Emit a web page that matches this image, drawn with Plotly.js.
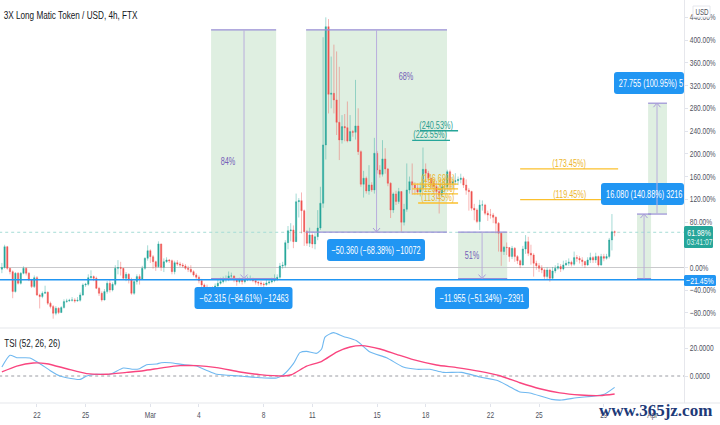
<!DOCTYPE html>
<html>
<head>
<meta charset="utf-8">
<script src="https://cdn.plot.ly/plotly-3.0.1.min.js"></script>
<style>html,body{margin:0;padding:0;background:#fff}#c{width:720px;height:425px}</style>
</head>
<body>
<div id="c"></div>
<script>
// ---- candle values, in % of the chart's reference price (open = previous close)
const closes = [
0,36.6,-1.4,-7.3,-42.4,-10.2,-27.8,-10.2,-1.4,-10.2,
-21.9,-33.6,-17.8,-48.3,-51.2,-45.4,-43.6,-62.9,-68.8,-80.5,
-71.7,-79.3,-70.5,-60,-58.8,-57.7,-57,-58.8,-57.7,-48.3,
-30.7,-29.5,-17.8,-16,-19,-36.6,-45.4,-57,-42.4,-27.8,
-39.5,-29.5,-1.4,-0.2,-1.4,-19,-12,-21.9,-45.4,-24.8,
-16,-20,-1.4,16.2,29.6,19.1,10.3,1.5,41.4,0.3,
10.3,13.2,12,-7.3,8.5,6.2,4.4,2.7,-1.4,-3.2,
-7.3,-13.1,-17.2,-23.1,-30.7,-34.8,-37.2,-37.2,-37.2,-32.5,
-27.8,-24.9,-21.9,-20.7,-14.9,-14.9,-21.9,-24.9,-21.9,-24.9,
-21.9,-20.7,-19.6,-23.1,-26,-27.2,-29,-30.1,-27.2,-25.4,
-23.1,-20.7,-17.2,2.7,3.9,43.7,64.8,66,45.5,115.8,
117.6,100,63,42.5,57.2,41.4,54.3,69.5,113,215.6,
423.6,304.6,306.4,294.7,255.4,224.4,247.8,246,222.6,239,
237.8,249,203.8,146.4,157,134.7,145.2,136.5,200.9,171.6,
164,191,173.4,148.2,101.3,129.4,116,133.5,79.6,102.4,
136.4,151,145,140,133,140,172.7,165.7,157,148.1,
142.3,133.5,127.6,142,142,168.6,148,151,152.8,155,
157,145,136,133.5,104.2,101.2,80.7,110,110,95.4,
92.4,92.4,88.3,77.8,60.2,28,35.6,35,19.2,33.8,
19.2,12,4.5,32.6,45.5,25,22,7.4,3.3,-1.3,
-4.3,-16,-4.3,-19,-6,-1.3,1.6,-2.5,4.5,7.4,
9.2,5.7,17.4,16.2,13.3,10.4,4.5,13.3,17.4,13.3,
19.2,4.5,19.2,16.2,19.2,48.5,63,62];
const highs = [
8,40,38,-1,-5,-8,-8,-8,2,0,
-8,-20,-14,-15,-46,-42,-32,-42,-60,-66,
-68,-70,-68,-56,-55,-55,-52,-54,-52,-44,
-28,-27,-12,-5,-14,-16,-34,-42,-38,-24,
-22,-26,4,13,10,-1,-8,-10,-18,-20,
-12,-12,3,18,39,32,22,12,46,42,
16,18,15,14,12,13,10,8,6,3,
4,-5,-10,-14,-20,-28,-30,-34,-33,-28,
-22,-18,-16,-14,-7,-9,-14,-20,-18,-20,
-18,-16,-14,-18,-21,-24,-24,-26,-22,-20,
-18,-12,-12,8,10,48,73,78,74,130,
122,132,102,66,70,60,62,101,142,405,
440,437,371,392,380,353,268,270,292,268,
242,330,280,206,170,160,180,150,228,205,
180,224,210,175,150,132,135,140,127,112,
183,160,183,150,148,150,211,183,170,155,
155,150,140,150,155,172,172,160,166,160,
165,160,155,140,135,112,104,119,118,112,
100,103,96,90,80,62,38,44,36,38,
36,22,14,38,57,54,40,25,12,8,
4,-2,0,-2,1,4,8,6,12,13,
16,12,28,22,20,18,12,18,26,20,
26,21,24,24,24,52,94,65];
const lows = [
-10,-2,-4,-12,-54,-44,-30,-30,-12,-14,
-24,-36,-36,-50,-72,-54,-46,-66,-72,-90,
-84,-82,-80,-72,-62,-60,-60,-62,-60,-60,
-50,-34,-32,-22,-24,-38,-50,-60,-58,-46,
-44,-42,-32,-12,-14,-22,-24,-28,-48,-48,
-30,-30,-22,-4,12,8,-2,-6,0,-6,
-8,8,8,-12,-12,3,1,0,-4,-8,
-10,-16,-22,-28,-36,-38,-42,-40,-42,-40,
-36,-30,-28,-26,-24,-20,-26,-32,-28,-30,
-28,-24,-24,-26,-30,-32,-33,-36,-32,-30,
-28,-26,-24,-20,-2,0,32,46,34,54,
88,60,38,38,36,34,32,48,66,105,
190,271,280,271,233,189,218,222,220,222,
230,225,198,142,123,130,128,133,130,165,
158,160,165,143,87,96,110,112,63,74,
98,130,128,128,128,125,135,150,148,138,
130,120,95,125,132,135,135,140,145,145,
148,140,128,100,100,83,78,66,100,92,
82,86,78,60,28,3,22,22,10,15,
10,6,-1,3,24,20,5,-16,-4,-8,
-10,-22,-20,-25,-22,-10,-4,-8,-5,3,
3,2,3,10,7,2,-1,3,8,8,
8,1.6,3,11,14,16,30,55];

// ---- TSI pane, read at candle positions
const tsiIdx = [0,3,5.5,10.4,14.1,17.8,21.5,24,29,31.4,35,40,45,48.7,51,53.6,57.3,59,62.3,67.2,72,75.9,79.6,88.2,95.6,101.8,104.3,108,110.4,112.9,116.6,118.5,119.7,122.8,126.5,131.4,136.4,142.5,148.7,153.7,158.6,163.5,170.3,177.1,183.3,187.6,191.9,195.6,203.7,207.4,212.9,222.8,227];
const tsiVal = [6.4,14.8,13.1,12.9,8.8,4,0,-1.2,-2.4,0,1.2,1.2,5.7,4.8,5.2,8.1,8.6,9.5,9.5,8.1,7.1,4,1.2,0,-1.2,-1.4,0.9,8.8,16.7,17.6,16.2,19.5,27.8,31,28.3,25.2,17.1,13.1,6.4,4.8,4.8,2.6,2.6,-0.7,-3.1,-7.1,-11.4,-12.1,-16.7,-17.2,-15.5,-13.3,-8.1];
const sigIdx = [0,5.5,11.6,16.6,24,31.4,38.8,46.2,52.4,59.8,66,72.2,79.6,88.2,95.6,104.3,107.3,112.9,118.5,124,129,133.3,140.1,146.2,152.4,161,168.5,177.1,184.5,191.9,199.3,206.7,214.2,221.6,227];
const sigVal = [2.9,7.1,9.3,8.8,5.2,1.7,1.2,2.6,3.8,6,7.4,7.4,6,2.9,1,0,0.9,7.1,10.5,17.1,20.7,21.7,19.3,15.5,11.7,7.9,6,3.3,0.2,-4.8,-9.1,-12.1,-13.6,-14,-12.9];

// ---- axis ticks
const priceTicks = [-80,-40,0,40,80,120,160,200,240,280,320,360,400,440];
const priceTickText = ['\u221280.00%','\u221240.00%','0.00%','40.00%','80.00%','120.00%','160.00%','200.00%','240.00%','280.00%','320.00%','360.00%','400.00%','440.00%'];
const tsiTicks = [0,20];
const tsiTickText = ['0.0000','20.0000'];
const dateTicks = [13,31,55,73,97,115,139,157,181,199,223,241];
const dateTickText = ['22','25','Mar','4','8','11','15','18','22','25','29','Apr'];

// ---- drawing-tool levels
const lastPrice = 61.98, bluePrice = -21.45;
const measureX0 = [77.5,112.7,169,235.3,239.4];
const measureX1 = [101.6,164.9,187.2,240.5,246.4];
const measureMid = [89.7,138.8,177.9,237.9,242.7];
const measureTop = [418,418,62.4,94,289];
const measureBot = [-19.5,62.4,-19.5,-19.5,94];
const fibYellow = [173.45,119.45,146.69,138.45,129.45,113.45];
const fibYellowX0 = [192,192,152,152,152,154.2];
const fibYellowX1 = [228.3,222,169,169,169,169];
const fibTeal = [240.53,223.55];
const fibTealX0 = [154.9,152];
const fibTealX1 = [169,166];

const FONT = '"Liberation Sans",Arial,sans-serif';
const W=720,H=425;
const px=x=>x/W, py=y=>1-y/H;
const idx = closes.map((_,i)=>i);
const opens = closes.map((c,i)=>i?closes[i-1]:-3);

const UP='#26a69a', DN='#ef5350', BLUE='#2196f3', PUR='#7560b8';
const shapes=[], ann=[];

measureX0.forEach((x0,i)=>{
  shapes.push({type:'rect',layer:'below',xref:'x',yref:'y',x0:x0,x1:measureX1[i],y0:measureBot[i],y1:measureTop[i],fillcolor:'#dfefe1',line:{width:0}});
});
shapes.push({type:'line',layer:'below',xref:'x',yref:'y',x0:-1,x1:252.7,y0:0,y1:0,line:{color:'#c9c9cc',width:1}});
shapes.push({type:'line',layer:'below',xref:'x',yref:'y',x0:-1,x1:252.7,y0:lastPrice,y1:lastPrice,line:{color:'#a6dcd6',width:1,dash:'dot'}});
shapes.push({type:'line',layer:'below',xref:'paper',yref:'paper',x0:0,x1:1,y0:py(328),y1:py(328),line:{color:'#e6e7ec',width:1.2}});
shapes.push({type:'line',layer:'below',xref:'paper',yref:'paper',x0:0,x1:1,y0:py(403),y1:py(403),line:{color:'#e6e7ec',width:1.2}});
shapes.push({type:'line',layer:'below',xref:'x',yref:'y2',x0:-1,x1:252.7,y0:0,y1:0,line:{color:'#9a9ca3',width:1,dash:'dot'}});

function rbox(x0,y0,x1,y1,c,r){
  r=r||3;
  const X=v=>px(v),Y=v=>py(v);
  const path=`M${X(x0+r)},${Y(y0)} L${X(x1-r)},${Y(y0)} Q${X(x1)},${Y(y0)} ${X(x1)},${Y(y0+r)} L${X(x1)},${Y(y1-r)} Q${X(x1)},${Y(y1)} ${X(x1-r)},${Y(y1)} L${X(x0+r)},${Y(y1)} Q${X(x0)},${Y(y1)} ${X(x0)},${Y(y1-r)} L${X(x0)},${Y(y0+r)} Q${X(x0)},${Y(y0)} ${X(x0+r)},${Y(y0)} Z`;
  shapes.push({type:'path',layer:'above',xref:'paper',yref:'paper',path:path,fillcolor:c,line:{width:0}});
}
function txt(x,y,t,size,color){
  ann.push({xref:'paper',yref:'paper',x:px(x),y:py(y),text:t,showarrow:false,xanchor:'center',yanchor:'middle',font:{family:FONT,size:size,color:color},borderpad:0});
}
rbox(194.5,287,292.5,309,BLUE);
rbox(327,239,425,261,BLUE);
rbox(435,287,529,309,BLUE);
rbox(614,72,684,94,BLUE);
rbox(601,183,684,205,BLUE);
txt(244,298,'\u221262.315 (\u221284.61%) \u221212463',10,'#fff');
txt(376,250,'\u221250.360 (\u221268.38%) \u221210072',10,'#fff');
txt(482,298,'\u221211.955 (\u221251.34%) \u22122391',10,'#fff');
txt(651,83,'27.755 (100.95%) 5',10,'#fff');
txt(644,194,'16.080 (140.88%) 3216',10,'#fff');

measureX0.forEach((x0,i)=>{
  [measureTop[i],measureBot[i]].forEach(v=>{
    shapes.push({type:'line',layer:'above',xref:'x',yref:'y',x0:x0,x1:measureX1[i],y0:v,y1:v,line:{color:'#9a8fd6',width:1.2}});
  });
  shapes.push({type:'line',layer:'above',xref:'x',yref:'y',x0:measureMid[i],x1:measureMid[i],y0:measureBot[i],y1:measureTop[i],line:{color:'#b9aedd',width:1}});
  const xm=1.9+2.699*measureMid[i];
  const down=i<3;
  const tip=267.5-0.5685*(down?measureBot[i]:measureTop[i]);
  const s=down?-1:1;
  shapes.push({type:'path',layer:'above',xref:'paper',yref:'paper',path:`M${px(xm-3.5)},${py(tip+s*4)} L${px(xm)},${py(tip)} L${px(xm+3.5)},${py(tip+s*4)}`,line:{color:'#a99bd9',width:1}});
});
txt(228,162,'84%',10,PUR);
txt(406,77,'68%',10,PUR);
txt(471.5,256,'51%',10,PUR);

fibYellow.forEach((v,i)=>{
  shapes.push({type:'line',layer:'above',xref:'x',yref:'y',x0:fibYellowX0[i],x1:fibYellowX1[i],y0:v,y1:v,line:{color:'#fbc02d',width:1.3}});
  const xc=i<2?569:438;
  txt(xc,267.5-0.5685*v-5.5,'('+v.toFixed(2)+'%)',10,'#ecb62e');
});
fibTeal.forEach((v,i)=>{
  shapes.push({type:'line',layer:'above',xref:'x',yref:'y',x0:fibTealX0[i],x1:fibTealX1[i],y0:v,y1:v,line:{color:'#26a69a',width:1.3}});
  txt(i?430:436,267.5-0.5685*v-5.5,'('+v.toFixed(2)+'%)',10,'#2a9d90');
});

shapes.push({type:'line',layer:'above',xref:'x',yref:'y',x0:-1,x1:252.7,y0:bluePrice,y1:bluePrice,line:{color:BLUE,width:1.5}});
rbox(684,226,713,248,UP,1.5);
rbox(684,275,716,286,BLUE,1.5);
txt(699,232.5,lastPrice.toFixed(2)+'%',9.5,'#fff');
txt(699,241.5,'03:41:07',9,'#dff3f0');
txt(700,280.5,'\u221221.45%',9.5,'#fff');
shapes.push({type:'rect',layer:'above',xref:'paper',yref:'paper',x0:px(693),x1:px(710),y0:py(6),y1:py(17),fillcolor:'#fff',line:{color:'#e6e7ec',width:1}});
txt(701.5,11.5,'USD',8.5,'#50535e');

txt(71,14.5,'3X Long Matic Token / USD, 4h, FTX',11.2,'#131722');
txt(32,343,'TSI (52, 26, 26)',11,'#131722');
ann.push({xref:'paper',yref:'paper',x:px(597),y:py(410),text:'<b>www.365jz.com</b>',showarrow:false,xanchor:'left',yanchor:'middle',font:{family:'"Liberation Serif",serif',size:17,color:'#1d3a78'}});

const traces=[
{type:'candlestick',x:idx,open:opens,high:highs,low:lows,close:closes,xaxis:'x',yaxis:'y',width:0.7,whiskerwidth:0,
 increasing:{line:{color:'rgba(38,166,154,0.42)',width:1},fillcolor:UP},
 decreasing:{line:{color:'rgba(239,83,80,0.42)',width:1},fillcolor:DN},showlegend:false,hoverinfo:'skip'},
{type:'scatter',mode:'lines',x:tsiIdx,y:tsiVal,xaxis:'x',yaxis:'y2',line:{color:'#6fb8f0',width:1.1,shape:'spline',smoothing:0.6},showlegend:false,hoverinfo:'skip'},
{type:'scatter',mode:'lines',x:sigIdx,y:sigVal,xaxis:'x',yaxis:'y2',line:{color:'#f9457f',width:1.4,shape:'spline',smoothing:0.6},showlegend:false,hoverinfo:'skip'}
];

const tickFont={family:FONT,size:9,color:'#50535e'};
const layout={
 width:W,height:H,margin:{l:0,r:0,t:0,b:0},paper_bgcolor:'#fff',plot_bgcolor:'#fff',showlegend:false,
 xaxis:{domain:[0,684/720],range:[-0.7,252.7],anchor:'y2',rangeslider:{visible:false},showgrid:false,zeroline:false,
   tickmode:'array',tickvals:dateTicks,ticktext:dateTickText,ticks:'outside',ticklen:3,tickcolor:'#e0e3eb',tickfont:tickFont,showline:false},
 yaxis:{domain:[py(328),1],range:[-106.4,470.5],side:'right',anchor:'x',showgrid:false,zeroline:false,
   tickmode:'array',tickvals:priceTicks,ticktext:priceTickText,ticks:'outside',ticklen:3,tickcolor:'#e0e3eb',tickfont:tickFont,showline:true,linecolor:'#e6e7ec',linewidth:1},
 yaxis2:{domain:[py(403),py(329)],range:[-19.3,33.6],side:'right',anchor:'x',showgrid:false,zeroline:false,
   tickmode:'array',tickvals:tsiTicks,ticktext:tsiTickText,ticks:'outside',ticklen:3,tickcolor:'#e0e3eb',tickfont:tickFont,showline:true,linecolor:'#e6e7ec',linewidth:1},
 shapes:shapes,annotations:ann
};
// The reference's lettering is narrow; squeeze the real text horizontally after drawing.
const SQUEEZE=0.73;
Plotly.newPlot('c',traces,layout,{displayModeBar:false,staticPlot:true}).then(gd=>{
  gd.querySelectorAll('svg text').forEach(t=>{
    if(t.textContent.startsWith('www')) return;
    const w=t.getComputedTextLength();
    if(w>0){t.setAttribute('textLength',(w*SQUEEZE).toFixed(1));t.setAttribute('lengthAdjust','spacingAndGlyphs');}
  });
});
</script>
</body>
</html>
